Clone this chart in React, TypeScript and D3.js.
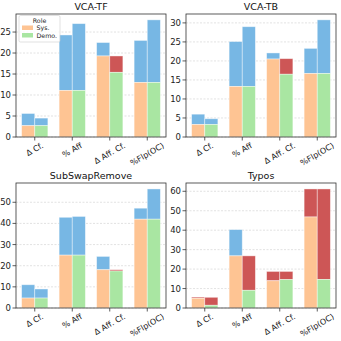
import { useRef, useEffect } from "react";
import * as d3 from "d3";

// categories on the x axis (same for every panel)
const categories = ["Δ Cf.", "% Aff", "Δ Aff. Cf.", "%Flp(OC)"];
const roles = ["Sys.", "Demo."];

// VCA-TF
const tfSysBase = [2.7, 11.1, 19.3, 13.0];
const tfSysTop = [5.6, 24.3, 22.5, 23.0];
const tfSysKind = ["up", "up", "up", "up"];
const tfDemoBase = [2.7, 11.1, 15.4, 13.0];
const tfDemoTop = [4.5, 27.0, 19.3, 27.9];
const tfDemoKind = ["up", "up", "down", "up"];

// VCA-TB
const tbSysBase = [3.3, 13.3, 20.5, 16.7];
const tbSysTop = [6.0, 25.1, 22.1, 23.3];
const tbSysKind = ["up", "up", "up", "up"];
const tbDemoBase = [3.3, 13.3, 16.5, 16.7];
const tbDemoTop = [4.8, 29.0, 20.6, 30.8];
const tbDemoKind = ["up", "up", "down", "up"];

// SubSwapRemove
const ssSysBase = [4.7, 25.0, 18.1, 42.0];
const ssSysTop = [11.0, 42.9, 24.4, 47.2];
const ssSysKind = ["up", "up", "up", "up"];
const ssDemoBase = [4.7, 25.0, 17.5, 42.0];
const ssDemoTop = [9.0, 43.3, 18.1, 56.3];
const ssDemoKind = ["up", "up", "down", "up"];

// Typos
const tySysBase = [5.0, 26.8, 14.0, 46.8];
const tySysTop = [5.6, 40.3, 18.8, 61.2];
const tySysKind = ["down", "up", "down", "down"];
const tyDemoBase = [1.4, 9.1, 14.6, 14.7];
const tyDemoTop = [5.5, 26.8, 18.8, 61.2];
const tyDemoKind = ["down", "down", "down", "down"];

const titles = ["VCA-TF", "VCA-TB", "SubSwapRemove", "Typos"];

const baseColor = { "Sys.": "#fec493", "Demo.": "#a9e6a2" };
const topColor = { up: "#77b7e4", down: "#cd5656" };

const panels = [
  { title: titles[0], sys: [tfSysBase, tfSysTop, tfSysKind], demo: [tfDemoBase, tfDemoTop, tfDemoKind] },
  { title: titles[1], sys: [tbSysBase, tbSysTop, tbSysKind], demo: [tbDemoBase, tbDemoTop, tbDemoKind] },
  { title: titles[2], sys: [ssSysBase, ssSysTop, ssSysKind], demo: [ssDemoBase, ssDemoTop, ssDemoKind] },
  { title: titles[3], sys: [tySysBase, tySysTop, tySysKind], demo: [tyDemoBase, tyDemoTop, tyDemoKind] },
];

// frames of the four axes
const frames = [
  { x: 16, y: 14, w: 150, h: 123 },
  { x: 186, y: 14, w: 150, h: 123 },
  { x: 16, y: 183, w: 150, h: 125 },
  { x: 186, y: 183, w: 150, h: 125 },
];

const FONT = "DejaVu Sans, sans-serif";
const barW = 0.35;

export default function App() {
  const ref = useRef<SVGSVGElement>(null);

  useEffect(() => {
    const svg = d3.select(ref.current);
    svg.selectAll("*").remove();

    panels.forEach((p, pi) => {
      const f = frames[pi];
      const g = svg.append("g").attr("transform", `translate(${f.x},${f.y})`);

      const maxV = d3.max([...p.sys[1], ...p.demo[1]] as number[]) as number;
      const y = d3.scaleLinear().domain([0, maxV * 1.05]).range([f.h, 0]);
      const x = d3.scaleLinear().domain([-0.5, categories.length - 0.5]).range([0, f.w]);
      const ticks = y.ticks(6);

      // grid
      g.append("g")
        .selectAll("line")
        .data(ticks)
        .join("line")
        .attr("x1", 0)
        .attr("x2", f.w)
        .attr("y1", (d) => y(d))
        .attr("y2", (d) => y(d))
        .attr("stroke", "#cfcfcf")
        .attr("stroke-width", 0.6)
        .attr("stroke-dasharray", "2,1.5");

      // bars
      const rows: any[] = [];
      categories.forEach((c, i) => {
        [p.sys, p.demo].forEach((s, j) => {
          rows.push({ i, role: roles[j], off: j === 0 ? -barW : 0, base: s[0][i], top: s[1][i], kind: s[2][i] });
        });
      });
      const bars = g.append("g").selectAll("g").data(rows).join("g");
      bars
        .append("rect")
        .attr("x", (d) => x(d.i + d.off))
        .attr("width", (d) => x(barW) - x(0))
        .attr("y", (d) => y(d.top))
        .attr("height", (d) => y(d.base) - y(d.top))
        .attr("fill", (d) => topColor[d.kind as "up" | "down"])
        .attr("stroke", "white")
        .attr("stroke-opacity", 0.5)
        .attr("stroke-width", 0.8);
      bars
        .append("rect")
        .attr("x", (d) => x(d.i + d.off))
        .attr("width", (d) => x(barW) - x(0))
        .attr("y", (d) => y(d.base))
        .attr("height", (d) => y(0) - y(d.base))
        .attr("fill", (d) => baseColor[d.role as "Sys." | "Demo."])
        .attr("stroke", "white")
        .attr("stroke-opacity", 0.5)
        .attr("stroke-width", 0.8);

      // frame
      g.append("rect")
        .attr("width", f.w)
        .attr("height", f.h)
        .attr("fill", "none")
        .attr("stroke", "#333")
        .attr("stroke-width", 0.8);

      // y ticks
      const yt = g.append("g").selectAll("g").data(ticks).join("g")
        .attr("transform", (d) => `translate(0,${y(d)})`);
      yt.append("line").attr("x1", -3.5).attr("x2", 0).attr("stroke", "#333").attr("stroke-width", 0.8);
      yt.append("text")
        .attr("x", -5)
        .attr("text-anchor", "end")
        .attr("dominant-baseline", "central")
        .attr("font-family", FONT)
        .attr("font-size", 8.5)
        .attr("fill", "#222")
        .text((d) => d);

      // x ticks
      const xt = g.append("g").selectAll("g").data(categories).join("g")
        .attr("transform", (d, i) => `translate(${x(i)},${f.h})`);
      xt.append("line").attr("y1", 0).attr("y2", 3.5).attr("stroke", "#333").attr("stroke-width", 0.8);
      const fs = 8;
      xt.append("text")
        .attr("text-anchor", "middle")
        .attr("dominant-baseline", "central")
        .attr("font-family", FONT)
        .attr("font-size", fs)
        .attr("fill", "#222")
        .text((d) => d)
        .each(function () {
          const w = (this as SVGTextElement).getComputedTextLength();
          const hh = w * 0.5 + fs * 0.866;
          d3.select(this).attr("transform", `translate(0,${4.5 + hh / 2}) rotate(-30)`);
        });

      // title
      g.append("text")
        .attr("x", f.w / 2)
        .attr("y", -4)
        .attr("text-anchor", "middle")
        .attr("font-family", FONT)
        .attr("font-size", 9.5)
        .attr("fill", "#111")
        .text(p.title);

      // legend in the first panel
      if (pi === 0) {
        const lg = g.append("g").attr("transform", "translate(3,1.5)");
        lg.append("rect")
          .attr("width", 41)
          .attr("height", 26.5)
          .attr("rx", 1.5)
          .attr("fill", "white")
          .attr("fill-opacity", 0.8)
          .attr("stroke", "#ccc")
          .attr("stroke-width", 0.6);
        lg.append("text")
          .attr("x", 20.5)
          .attr("y", 7)
          .attr("text-anchor", "middle")
          .attr("font-family", FONT)
          .attr("font-size", 6.3)
          .attr("fill", "#222")
          .text("Role");
        roles.forEach((r, k) => {
          lg.append("rect")
            .attr("x", 3)
            .attr("y", 10 + k * 7.5)
            .attr("width", 11)
            .attr("height", 4.5)
            .attr("fill", baseColor[r as "Sys." | "Demo."]);
          lg.append("text")
            .attr("x", 17.5)
            .attr("y", 12.3 + k * 7.5)
            .attr("dominant-baseline", "central")
            .attr("font-family", FONT)
            .attr("font-size", 6.3)
            .attr("fill", "#222")
            .text(r);
        });
      }
    });
  }, []);

  return (
    <svg
      ref={ref}
      width={341}
      height={341}
      style={{ position: "absolute", left: 0, top: 0, background: "white" }}
    />
  );
}
